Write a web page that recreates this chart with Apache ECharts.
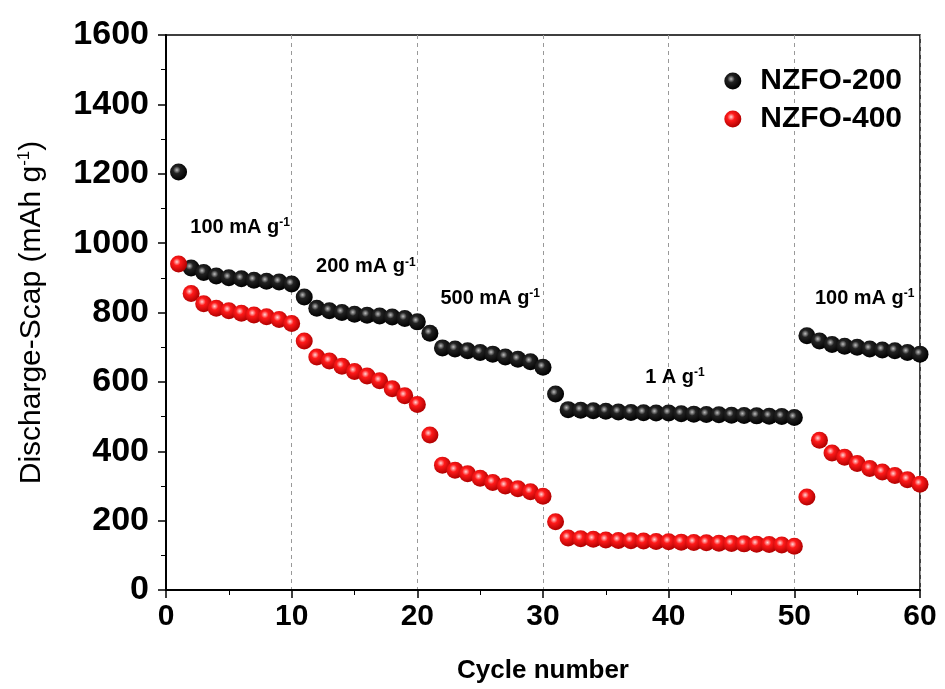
<!DOCTYPE html>
<html>
<head>
<meta charset="utf-8">
<script src="https://cdn.jsdelivr.net/npm/echarts@6/dist/echarts.min.js"></script>
<style>
  html, body { margin: 0; padding: 0; background: #fff; }
  #chart { width: 945px; height: 689px; }
</style>
</head>
<body>
<div id="chart"></div>
<script>
// cycle numbers 1..60
const cycles = [
  1, 2, 3, 4, 5, 6, 7, 8, 9, 10,
  11, 12, 13, 14, 15, 16, 17, 18, 19, 20,
  21, 22, 23, 24, 25, 26, 27, 28, 29, 30,
  31, 32, 33, 34, 35, 36, 37, 38, 39, 40,
  41, 42, 43, 44, 45, 46, 47, 48, 49, 50,
  51, 52, 53, 54, 55, 56, 57, 58, 59, 60
]
const nzfo200 = [
  1205, 928, 915, 905, 900, 897, 893, 890, 888, 882,
  845, 812, 805, 800, 795, 792, 790, 787, 783, 773,
  740, 698, 695, 690, 685, 680, 672, 665, 658, 642,
  565, 520, 518, 517, 515, 513, 512, 511, 510, 510,
  508, 507, 506, 505, 504, 503, 502, 501, 500, 497,
  733, 718, 708, 703, 700, 695, 692, 690, 685, 680
]
const nzfo400 = [
  940, 855, 825, 812, 805, 798, 793, 788, 780, 768,
  718, 672, 660, 645, 630, 617, 603, 580, 560, 535,
  447, 360, 345, 335, 322, 310, 300, 292, 283, 270,
  197, 150, 148, 146, 144, 143, 142, 141, 140, 139,
  138, 137, 136, 135, 134, 133, 132, 131, 130, 126,
  268, 432, 395, 383, 365, 350, 340, 330, 318, 305
]
// current density labels: [x, y, text]
const rateLabels = [
  [5.9, 1045, '100 mA g'],
  [15.9, 932, '200 mA g'],
  [25.8, 840, '500 mA g'],
  [40.5, 613, '1 A g'],
  [55.6, 840, '100 mA g']
]

const ball = (hi, mid, dark) => ({
  type: 'radial', x: 0.4, y: 0.38, r: 0.62,
  colorStops: [
    { offset: 0, color: hi },
    { offset: 0.35, color: mid },
    { offset: 1, color: dark }
  ]
})
const blackBall = ball('#bdbdbd', '#222', '#000')
const redBall = ball('#ffd6d6', '#ff1a1a', '#b00000')

const font = '"Liberation Sans", Arial, sans-serif'

const chart = echarts.init(document.getElementById('chart'))
chart.setOption({
  backgroundColor: '#fff',
  animation: false,
  grid: {
    left: 166, right: 25, top: 35, bottom: 99,
    outerBoundsMode: 'none',
    show: true, borderColor: '#000', borderWidth: 1.5
  },
  legend: {
    right: 38, top: 61, orient: 'vertical', itemGap: 8,
    itemWidth: 17, itemHeight: 17,
    textStyle: { fontFamily: font, fontWeight: 'bold', fontSize: 30, color: '#000', padding: [0, 0, 0, 14] },
    data: ['NZFO-200', 'NZFO-400']
  },
  xAxis: {
    type: 'value', min: 0, max: 60, interval: 10,
    name: 'Cycle number', nameLocation: 'middle', nameGap: 68,
    nameTextStyle: { fontFamily: font, fontWeight: 'bold', fontSize: 26, color: '#000' },
    axisLine: { lineStyle: { color: '#000', width: 2 } },
    axisTick: { length: 8, lineStyle: { color: '#000', width: 1.5 } },
    minorTick: { show: true, splitNumber: 2, length: 5, lineStyle: { color: '#000' } },
    axisLabel: { fontFamily: font, fontWeight: 'bold', fontSize: 30, color: '#000', margin: 12 },
    splitLine: { show: true, lineStyle: { color: '#999', type: [4, 4], width: 1 } }
  },
  yAxis: {
    type: 'value', min: 0, max: 1600, interval: 200,
    name: 'Discharge-Scap (mAh g{sup|-1})', nameLocation: 'middle', nameGap: 118,
    nameTextStyle: {
      fontFamily: font, fontSize: 30, color: '#000',
      rich: { sup: { fontFamily: font, fontSize: 17, color: '#000', verticalAlign: 'top', lineHeight: 32 } }
    },
    axisLine: { lineStyle: { color: '#000', width: 2 } },
    axisTick: { length: 8, lineStyle: { color: '#000', width: 1.5 } },
    minorTick: { show: true, splitNumber: 2, length: 5, lineStyle: { color: '#000' } },
    axisLabel: {
      fontFamily: font, fontWeight: 900, fontSize: 34, color: '#000', margin: 17,
      formatter: v => String(v)
    },
    splitLine: { show: false }
  },
  series: [
    {
      name: 'NZFO-200', type: 'scatter', symbolSize: 17, z: 3,
      itemStyle: { color: blackBall, opacity: 1 },
      data: cycles.map((c, i) => [c, nzfo200[i]])
    },
    {
      name: 'NZFO-400', type: 'scatter', symbolSize: 17, z: 3,
      itemStyle: { color: redBall, opacity: 1 },
      data: cycles.map((c, i) => [c, nzfo400[i]])
    },
    {
      name: 'rates', type: 'scatter', symbolSize: 0, silent: true, z: 4,
      itemStyle: { opacity: 1 },
      data: rateLabels.map(r => ({ value: [r[0], r[1]], text: r[2] })),
      label: {
        show: true, position: 'inside',
        formatter: p => p.data.text + '{sup|-1}',
        fontFamily: font, fontWeight: 'bold', fontSize: 20, color: '#000',
        rich: { sup: { fontFamily: font, fontWeight: 'bold', fontSize: 12, color: '#000', verticalAlign: 'top', lineHeight: 21 } }
      }
    }
  ]
})
</script>
</body>
</html>
